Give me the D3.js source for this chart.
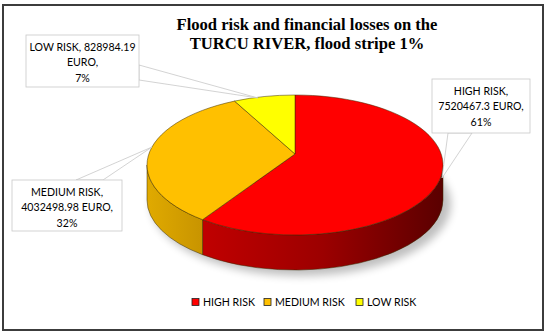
<!DOCTYPE html>
<html>
<head>
<meta charset="utf-8">
<script src="https://cdn.jsdelivr.net/npm/d3@7"></script>
<style>
  body { margin:0; background:#fff; }
  svg text { font-family: Lato, "Open Sans", sans-serif; }
</style>
</head>
<body>
<div id="plot"></div>
<script>
// chart data
var categories = ['HIGH RISK', 'MEDIUM RISK', 'LOW RISK'];
var losses = [7520467.3, 4032498.98, 828984.19];
var lossLabels = ['7520467.3', '4032498.98', '828984.19'];
var percents = ['61%', '32%', '7%'];
var colors = ['#ff0000', '#ffc000', '#ffff00'];

var width = 550, height = 336;

var svg = d3.select('#plot')
  .append('svg')
  .attr('width', width)
  .attr('height', height);

var defs = svg.append('defs');

// side gradients
var gRed = defs.append('linearGradient').attr('id', 'sideRed');
gRed.append('stop').attr('offset', '0%').attr('stop-color', '#c00000');
gRed.append('stop').attr('offset', '50%').attr('stop-color', '#9c0000');
gRed.append('stop').attr('offset', '100%').attr('stop-color', '#5a0000');
var gOr = defs.append('linearGradient').attr('id', 'sideOrange');
gOr.append('stop').attr('offset', '0%').attr('stop-color', '#e0aa00');
gOr.append('stop').attr('offset', '100%').attr('stop-color', '#c89400');
var sideFill = ['url(#sideRed)', 'url(#sideOrange)', '#d4d400'];

defs.append('filter').attr('id', 'blur')
  .attr('x', '-20%').attr('y', '-20%').attr('width', '140%').attr('height', '140%')
  .append('feGaussianBlur').attr('stdDeviation', 4);

// pie geometry (ellipse)
var cx = 295, cy = 165, rx = 148, ry = 70, depth = 35, apexShift = 11;

function pt(a) {
  return [cx + rx * Math.sin(a), cy - ry * Math.cos(a)];
}

var pie = d3.pie().sort(null).value(function(d){ return d; });
var arcs = pie(losses);

// shadow
svg.append('ellipse')
  .attr('cx', cx + 6).attr('cy', cy + depth + 4)
  .attr('rx', rx + 2).attr('ry', ry + 2)
  .attr('fill', '#000').attr('opacity', 0.25)
  .attr('filter', 'url(#blur)');

// side walls (front half only)
arcs.forEach(function(d, i){
  var v0 = Math.max(d.startAngle, Math.PI / 2),
      v1 = Math.min(d.endAngle, 3 * Math.PI / 2);
  if (v0 >= v1) return;
  var p0 = pt(v0), p1 = pt(v1);
  var path = 'M' + p0[0] + ',' + p0[1] +
    'A' + rx + ',' + ry + ' 0 0 1 ' + p1[0] + ',' + p1[1] +
    'L' + p1[0] + ',' + (p1[1] + depth) +
    'A' + rx + ',' + ry + ' 0 0 0 ' + p0[0] + ',' + (p0[1] + depth) + 'Z';
  svg.append('path')
    .attr('d', path)
    .attr('fill', sideFill[i])
    .attr('stroke', '#3a2a00')
    .attr('stroke-width', 0.5);
});

// top faces
arcs.forEach(function(d, i){
  var p0 = pt(d.startAngle), p1 = pt(d.endAngle);
  var large = (d.endAngle - d.startAngle) > Math.PI ? 1 : 0;
  var path = 'M' + cx + ',' + (cy - apexShift) +
    'L' + p0[0] + ',' + p0[1] +
    'A' + rx + ',' + ry + ' 0 ' + large + ' 1 ' + p1[0] + ',' + p1[1] + 'Z';
  svg.append('path')
    .attr('d', path)
    .attr('fill', colors[i])
    .attr('stroke', '#3a2a00')
    .attr('stroke-width', 0.5);
});

// callout boxes with pointers
var callouts = [
  {box: [432, 79, 98, 54], ptr: [[448, 133], [472, 133], [442, 178]]},
  {box: [12, 180, 110, 51], ptr: [[76, 180], [103, 180], [152, 147]]},
  {box: [26, 35, 113, 52], ptr: [[139, 65], [139, 80], [258, 98]]}
];

callouts.forEach(function(c, i){
  svg.append('polygon')
    .attr('points', c.ptr.map(function(p){ return p.join(','); }).join(' '))
    .attr('fill', '#fff')
    .attr('stroke', '#c8c8c8')
    .attr('stroke-width', 0.8);
  svg.append('rect')
    .attr('x', c.box[0]).attr('y', c.box[1])
    .attr('width', c.box[2]).attr('height', c.box[3])
    .attr('fill', '#fff')
    .attr('stroke', '#c8c8c8')
    .attr('stroke-width', 0.8);
  var lines;
  if (i === 2) lines = [categories[i] + ', ' + lossLabels[i], 'EURO,', percents[i]];
  else lines = [categories[i] + ',', lossLabels[i] + ' EURO,', percents[i]];
  var tx = c.box[0] + c.box[2] / 2;
  lines.forEach(function(t, j){
    svg.append('text')
      .attr('x', tx)
      .attr('y', c.box[1] + 16 + j * 15.3)
      .attr('text-anchor', 'middle')
      .attr('font-size', 10.6)
      .attr('fill', '#000')
      .text(t);
  });
});

// title
var title = ['Flood risk and financial losses on the', 'TURCU RIVER, flood stripe 1%'];
title.forEach(function(t, j){
  svg.append('text')
    .attr('x', 307)
    .attr('y', 30 + j * 19)
    .attr('text-anchor', 'middle')
    .style('font-family', '"Liberation Serif", "DejaVu Serif", serif')
    .style('font-weight', 'bold')
    .attr('font-size', 16.6)
    .attr('fill', '#000')
    .text(t);
});

// legend
var legX = [192, 264, 356];
categories.forEach(function(c, i){
  svg.append('rect')
    .attr('x', legX[i]).attr('y', 298.5)
    .attr('width', 7).attr('height', 7)
    .attr('fill', colors[i])
    .attr('stroke', '#222')
    .attr('stroke-width', 0.8);
  svg.append('text')
    .attr('x', legX[i] + 11)
    .attr('y', 306)
    .attr('font-size', 10.6)
    .attr('fill', '#000')
    .text(c);
});

// outer border
svg.append('rect')
  .attr('x', 3).attr('y', 5)
  .attr('width', 540).attr('height', 325)
  .attr('fill', 'none')
  .attr('stroke', '#3c3c3c')
  .attr('stroke-width', 2);
</script>
</body>
</html>
